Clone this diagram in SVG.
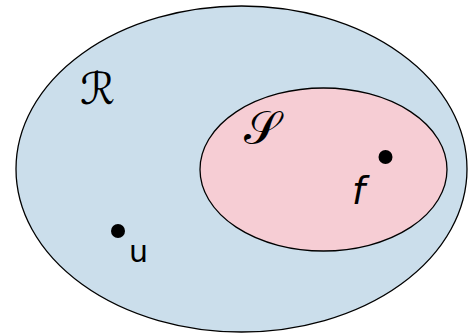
<svg xmlns="http://www.w3.org/2000/svg" width="471" height="334" viewBox="0 0 471 334">
<style>
.set{stroke:#000;stroke-width:1.3}
.dot{fill:#000}
.lbl{font-family:"DejaVu Sans","Liberation Sans",sans-serif;fill:#000}
</style>
<rect width="471" height="334" fill="#fff"/>
<g id="R">
<ellipse class="set" cx="241.5" cy="169" rx="225.5" ry="163" fill="#cbdeeb"/>
<text class="lbl" x="80" y="104" font-size="44">ℛ</text>
</g>
<g id="S">
<ellipse class="set" cx="323.5" cy="169.5" rx="123.5" ry="81.5" fill="#f6cdd4"/>
<text class="lbl" x="244" y="144" font-size="46">𝒮</text>
</g>
<g id="u">
<circle class="dot" cx="118" cy="231" r="7"/>
<text class="lbl" x="129" y="262" font-size="30">u</text>
</g>
<g id="f">
<circle class="dot" cx="385.5" cy="157" r="7"/>
<text class="lbl" x="352" y="204" font-size="37" font-style="italic">f</text>
</g>
<g id="connectors"/>
</svg>
